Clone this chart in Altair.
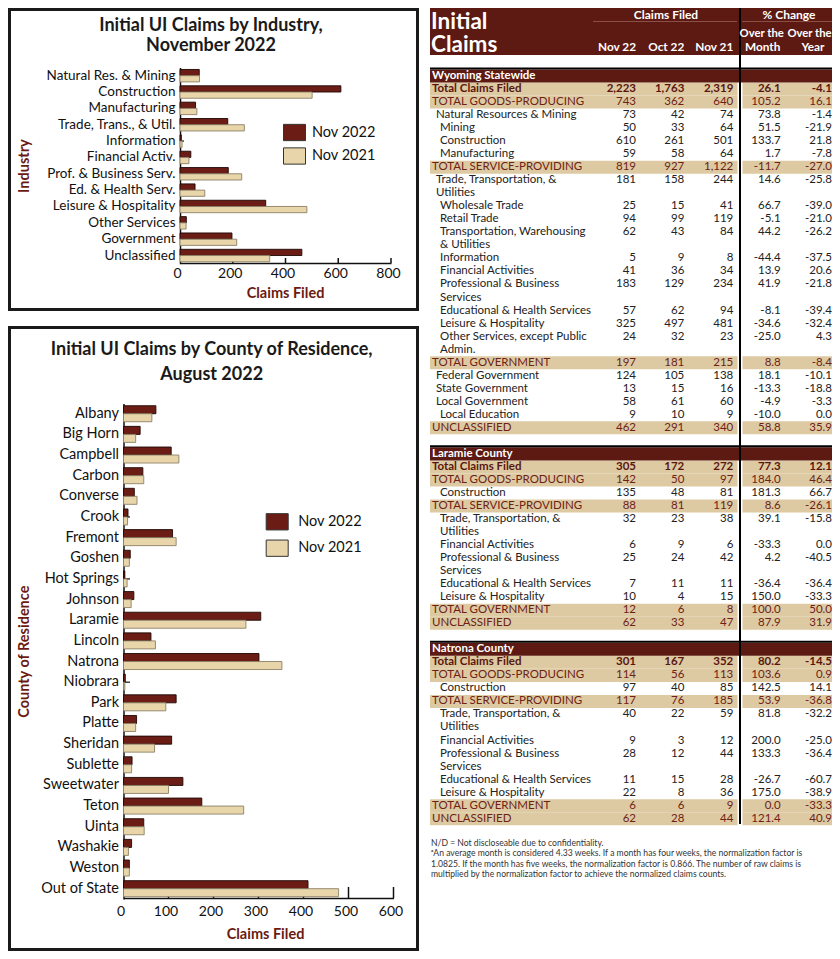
import altair as alt
import pandas as pd

F = "Lato"
HEAD = "#5c1a12"
BAR22 = "#6b1d15"
BAR21 = "#e8d6aa"
BEIGE = "#ddcaa2"
RED_TXT = "#6e2216"
RED_BOLD = "#5a160e"
TXT = "#222222"
TITLE_RED = "#6b1a12"
W, H = 824, 943

# ---------------- Chart 1 data: industry ----------------
industries = ["Natural Res. & Mining", "Construction", "Manufacturing", "Trade, Trans., & Util.",
              "Information", "Financial Activ.", "Prof. & Business Serv.", "Ed. & Health Serv.",
              "Leisure & Hospitality", "Other Services", "Government", "Unclassified"]
ind_nov2022 = [73, 610, 59, 181, 5, 41, 183, 57, 325, 24, 197, 462]
ind_nov2021 = [74, 501, 64, 244, 8, 34, 234, 94, 481, 23, 215, 340]
ind_ticks = [0, 200, 400, 600, 800]

# ---------------- Chart 2 data: county ----------------
counties = ["Albany", "Big Horn", "Campbell", "Carbon", "Converse", "Crook", "Fremont", "Goshen",
            "Hot Springs", "Johnson", "Laramie", "Lincoln", "Natrona", "Niobrara", "Park", "Platte",
            "Sheridan", "Sublette", "Sweetwater", "Teton", "Uinta", "Washakie", "Weston", "Out of State"]
cty_nov2022 = [72, 37, 106, 43, 24, 10, 109, 15, 3, 23, 305, 61, 301, 4, 117, 29, 107, 19, 132, 174, 45, 18, 13, 410]
cty_nov2021 = [63, 27, 123, 45, 30, 9, 117, 13, 8, 17, 272, 71, 352, 3, 94, 27, 69, 18, 100, 267, 46, 11, 13, 478]
cty_ticks = [0, 100, 200, 300, 400, 500, 600]

series = ["Nov 2022", "Nov 2021"]

# ---------------- Table data ----------------
tbl_labels = [
    "Wyoming Statewide", "Total Claims Filed", "TOTAL GOODS-PRODUCING", "Natural Resources & Mining",
    "Mining", "Construction", "Manufacturing", "TOTAL SERVICE-PROVIDING", "Trade, Transportation, &",
    "Utilities", "Wholesale Trade", "Retail Trade", "Transportation, Warehousing", "& Utilities",
    "Information", "Financial Activities", "Professional & Business", "Services",
    "Educational & Health Services", "Leisure & Hospitality", "Other Services, except Public", "Admin.",
    "TOTAL GOVERNMENT", "Federal Government", "State Government", "Local Government", "Local Education",
    "UNCLASSIFIED", "",
    "Laramie County", "Total Claims Filed", "TOTAL GOODS-PRODUCING", "Construction", "TOTAL SERVICE-PROVIDING",
    "Trade, Transportation, &", "Utilities", "Financial Activities", "Professional & Business", "Services",
    "Educational & Health Services", "Leisure & Hospitality", "TOTAL GOVERNMENT", "UNCLASSIFIED", "",
    "Natrona County", "Total Claims Filed", "TOTAL GOODS-PRODUCING", "Construction", "TOTAL SERVICE-PROVIDING",
    "Trade, Transportation, &", "Utilities", "Financial Activities", "Professional & Business", "Services",
    "Educational & Health Services", "Leisure & Hospitality", "TOTAL GOVERNMENT", "UNCLASSIFIED"]
tbl_kind = (["section", "total", "group", "item", "item", "item", "item", "group"] + ["item"] * 14 +
            ["group", "item", "item", "item", "item", "group", "blank"] +
            ["section", "total", "group", "item", "group"] + ["item"] * 7 + ["group", "group", "blank"] +
            ["section", "total", "group", "item", "group"] + ["item"] * 7 + ["group", "group"])
tbl_indent = ([0, 0, 0, 1, 2, 2, 2, 0, 1, 1] + [2] * 12 + [0, 1, 1, 1, 2, 0, 0] +
              [0, 0, 0, 2, 0] + [2] * 7 + [0, 0, 0] +
              [0, 0, 0, 2, 0] + [2] * 7 + [0, 0])
tbl_nov22 = ["", "2,223", "743", "73", "50", "610", "59", "819", "181", "", "25", "94", "62", "", "5", "41",
             "183", "", "57", "325", "24", "", "197", "124", "13", "58", "9", "462", "",
             "", "305", "142", "135", "88", "32", "", "6", "25", "", "7", "10", "12", "62", "",
             "", "301", "114", "97", "117", "40", "", "9", "28", "", "11", "22", "6", "62"]
tbl_oct22 = ["", "1,763", "362", "42", "33", "261", "58", "927", "158", "", "15", "99", "43", "", "9", "36",
             "129", "", "62", "497", "32", "", "181", "105", "15", "61", "10", "291", "",
             "", "172", "50", "48", "81", "23", "", "9", "24", "", "11", "4", "6", "33", "",
             "", "167", "56", "40", "76", "22", "", "3", "12", "", "15", "8", "6", "28"]
tbl_nov21 = ["", "2,319", "640", "74", "64", "501", "64", "1,122", "244", "", "41", "119", "84", "", "8", "34",
             "234", "", "94", "481", "23", "", "215", "138", "16", "60", "9", "340", "",
             "", "272", "97", "81", "119", "38", "", "6", "42", "", "11", "15", "8", "47", "",
             "", "352", "113", "85", "185", "59", "", "12", "44", "", "28", "36", "9", "44"]
tbl_mom = ["", "26.1", "105.2", "73.8", "51.5", "133.7", "1.7", "-11.7", "14.6", "", "66.7", "-5.1", "44.2", "",
           "-44.4", "13.9", "41.9", "", "-8.1", "-34.6", "-25.0", "", "8.8", "18.1", "-13.3", "-4.9", "-10.0",
           "58.8", "",
           "", "77.3", "184.0", "181.3", "8.6", "39.1", "", "-33.3", "4.2", "", "-36.4", "150.0", "100.0", "87.9", "",
           "", "80.2", "103.6", "142.5", "53.9", "81.8", "", "200.0", "133.3", "", "-26.7", "175.0", "0.0", "121.4"]
tbl_yoy = ["", "-4.1", "16.1", "-1.4", "-21.9", "21.8", "-7.8", "-27.0", "-25.8", "", "-39.0", "-21.0", "-26.2", "",
           "-37.5", "20.6", "-21.8", "", "-39.4", "-32.4", "4.3", "", "-8.4", "-10.1", "-18.8", "-3.3", "0.0",
           "35.9", "",
           "", "12.1", "46.4", "66.7", "-26.1", "-15.8", "", "0.0", "-40.5", "", "-36.4", "-33.3", "50.0", "31.9", "",
           "", "-14.5", "0.9", "14.1", "-36.8", "-32.2", "", "-25.0", "-36.4", "", "-60.7", "-38.9", "-33.3", "40.9"]

footnotes = [
    "N/D = Not discloseable due to confidentiality.",
    "\u1d43An average month is considered 4.33 weeks. If a month has four weeks, the normalization factor is",
    "1.0825. If the month has five weeks, the normalization factor is 0.866. The number of raw claims is",
    "multiplied by the normalization factor to achieve the normalized claims counts.",
]

# ---------------- frames ----------------
df1 = pd.DataFrame({"category": industries * 2,
                    "series": [series[0]] * len(industries) + [series[1]] * len(industries),
                    "value": ind_nov2022 + ind_nov2021})
df2 = pd.DataFrame({"category": counties * 2,
                    "series": [series[0]] * len(counties) + [series[1]] * len(counties),
                    "value": cty_nov2022 + cty_nov2021})
tdf = pd.DataFrame({"row": list(range(len(tbl_labels))), "label": tbl_labels, "kind": tbl_kind,
                    "indent": tbl_indent, "nov22": tbl_nov22, "oct22": tbl_oct22, "nov21": tbl_nov21,
                    "mom": tbl_mom, "yoy": tbl_yoy})
ONE = pd.DataFrame({"k": [0]})

SWATCH = "M-1,-0.74L1,-0.74L1,0.74L-1,0.74Z"


def txt(s, x, y, size, weight="normal", color="#111", align="left", baseline="middle"):
    return alt.Chart(ONE).mark_text(text=s, font=F, fontSize=size, fontWeight=weight, color=color,
                                    align=align, baseline=baseline).encode(x=alt.value(x), y=alt.value(y))


def rect(x, x2, y, y2, **kw):
    return alt.Chart(ONE).mark_rect(**kw).encode(x=alt.value(x), x2=alt.value(x2), y=alt.value(y), y2=alt.value(y2))


def hrule(x, x2, y, **kw):
    return alt.Chart(ONE).mark_rule(**kw).encode(x=alt.value(x), x2=alt.value(x2), y=alt.value(y))


def vrule(x, y, y2, **kw):
    return alt.Chart(ONE).mark_rule(**kw).encode(x=alt.value(x), y=alt.value(y), y2=alt.value(y2))


def bar_chart(df, cats, ticks, xdom, xr, yr, pin, axis_y, axis_x, title_x, title_y_pos, ytitle,
              lab_size, xlab_pad, leg_x, leg_y, leg_pad, leg_off, ytick_len, xtick_len):
    xs = alt.Scale(domain=xdom, range=xr, nice=False)
    ys = alt.Scale(domain=cats, range=yr, paddingInner=pin, paddingOuter=pin / 2)
    ax_x = alt.Axis(orient="bottom", offset=axis_x - H, values=ticks, ticks=False, grid=False,
                    domainColor="#111", domainWidth=1.5, labelFont=F, labelFontSize=14, labelColor="#111",
                    labelPadding=xlab_pad, labelOffset=-3, labelFlush=False, format="d",
                    title="Claims Filed", titleFont=F, titleFontSize=14.5, titleFontWeight="bold",
                    titleColor=TITLE_RED, titleX=title_x, titleY=title_y_pos, titleBaseline="middle",
                    titleAlign="center")
    ax_y = alt.Axis(orient="left", offset=-axis_y, ticks=False, grid=False, domainColor="#111",
                    domainWidth=1.5, labelFont=F, labelFontSize=lab_size, labelColor="#111",
                    labelPadding=5, labelLimit=300, title=ytitle, titleFont=F, titleFontSize=14.5,
                    titleFontWeight="bold", titleColor=TITLE_RED, titleAngle=270,
                    titleX=16 - axis_y, titleY=(yr[0] + yr[1]) / 2, titleBaseline="middle",
                    titleAlign="center")
    tick_df = pd.DataFrame({"value": ticks[1:]})
    xticks = alt.Chart(tick_df).mark_rule(color="#111", strokeWidth=1.5).encode(
        x=alt.X("value:Q", scale=xs, axis=ax_x),
        y=alt.value(axis_x - xtick_len), y2=alt.value(axis_x))
    yticks = alt.Chart(pd.DataFrame({"category": cats})).mark_rule(color="#111", strokeWidth=1.2).encode(
        y=alt.Y("category:N", scale=ys, sort=cats, axis=ax_y),
        x=alt.value(axis_y), x2=alt.value(axis_y + ytick_len))
    bars = alt.Chart(df).mark_bar(strokeWidth=0.9).encode(
        y=alt.Y("category:N", scale=ys, sort=cats, axis=ax_y),
        yOffset=alt.YOffset("series:N", sort=series, scale=alt.Scale(domain=series, paddingInner=0, paddingOuter=0)),
        x=alt.X("value:Q", scale=xs, axis=ax_x),
        color=alt.Color("series:N", sort=series, scale=alt.Scale(domain=series, range=[BAR22, BAR21]),
                        legend=alt.Legend(orient="none", legendX=leg_x, legendY=leg_y, title=None,
                                          symbolType=SWATCH, symbolSize=484, symbolStrokeColor="#333",
                                          symbolStrokeWidth=1, labelFont=F, labelFontSize=14.5,
                                          labelColor="#111", labelOffset=leg_off, rowPadding=leg_pad,
                                          padding=0)),
        stroke=alt.condition("datum.series == 'Nov 2022'", alt.value("#1e0806"), alt.value("#8c8068")),
    )
    return alt.layer(xticks, yticks, bars)


chart1 = bar_chart(df1, industries, ind_ticks, [0, 800], [172, 383], [59.5, 255.7], 0.24,
                   axis_y=172, axis_x=255, title_x=277, title_y_pos=30, ytitle="Industry",
                   lab_size=13.5, xlab_pad=3, leg_x=275, leg_y=113, leg_pad=1.5, leg_off=6,
                   ytick_len=4, xtick_len=5)
chart2 = bar_chart(df2, counties, cty_ticks, [0, 600], [115.5, 385.5], [395.4, 891], 0.225,
                   axis_y=115.5, axis_x=890, title_x=257, title_y_pos=36, ytitle="County of Residence",
                   lab_size=14.5, xlab_pad=6, leg_x=257.7, leg_y=502.3, leg_pad=4.4,
                   leg_off=9.5, ytick_len=6.5, xtick_len=11)

# ---------------- decorations (boxes, titles) ----------------
decor = [
    rect(1.5, 409.5, 1.5, 301.5, fillOpacity=0, stroke="#1a1a1a", strokeWidth=3),
    rect(1.5, 409.5, 319.5, 941.5, fillOpacity=0, stroke="#1a1a1a", strokeWidth=3),
    txt("Initial UI Claims by Industry,", 203, 17.5, 18, "bold", "#1a1a1a", "center"),
    txt("November 2022", 203, 37.5, 18, "bold", "#1a1a1a", "center"),
    txt("Initial UI Claims by County of Residence,", 203.7, 342.2, 18, "bold", "#1a1a1a", "center"),
    txt("August 2022", 203.7, 366.5, 18, "bold", "#1a1a1a", "center"),
]

# ---------------- table ----------------
ROW = alt.Scale(domain=[0, len(tbl_labels) - 1], range=[68, 810.7])
IND = alt.Scale(domain=[0, 2], range=[424, 432])
tb = alt.Chart(tdf)
bands = tb.transform_calculate(r0="datum.row - 0.5", r1="datum.row + 0.5")
tlayers = [
    rect(422, W, 0, 47, color=HEAD),
    bands.transform_filter("datum.kind == 'total' || datum.kind == 'group'").mark_rect(color=BEIGE).encode(
        y=alt.Y("r0:Q", scale=ROW, axis=None), y2="r1:Q", x=alt.value(422), x2=alt.value(729.5)),
    bands.transform_filter("datum.kind == 'total' || datum.kind == 'group'").mark_rect(color=BEIGE).encode(
        y=alt.Y("r0:Q", scale=ROW, axis=None), y2="r1:Q", x=alt.value(734.5), x2=alt.value(W)),
    bands.transform_filter("datum.kind == 'section'").mark_rect(color=HEAD).encode(
        y=alt.Y("r0:Q", scale=ROW, axis=None), y2="r1:Q", x=alt.value(422), x2=alt.value(W)),
    bands.transform_filter("datum.kind == 'section'").mark_rule(color="#000", strokeWidth=2, yOffset=-1).encode(
        y=alt.Y("r0:Q", scale=ROW, axis=None), x=alt.value(422), x2=alt.value(W)),
    vrule(732, 0, 816, color="#000", strokeWidth=2),
    hrule(585, 729, 13.5, color="#8a5048", strokeWidth=1),
    hrule(734, W, 13.5, color="#8a5048", strokeWidth=1),
    txt("Initial", 423, 20.5, 22.5, "bold", "white", "left", "alphabetic"),
    txt("Claims", 423, 44.3, 22.5, "bold", "white", "left", "alphabetic"),
    txt("Claims Filed", 658, 7, 12, "bold", "white", "center"),
    txt("% Change", 781, 7, 12, "bold", "white", "center"),
    txt("Over the", 753.7, 26, 11.3, "bold", "white", "center"),
    txt("Over the", 801.5, 26, 11.3, "bold", "white", "center"),
    txt("Month", 754.7, 38.7, 11.8, "bold", "white", "center"),
    txt("Year", 805, 38.7, 11.8, "bold", "white", "center"),
    txt("Nov 22", 628, 38.7, 11.8, "bold", "white", "right"),
    txt("Oct 22", 676.3, 38.7, 11.8, "bold", "white", "right"),
    txt("Nov 21", 725.3, 38.7, 11.8, "bold", "white", "right"),
]

label_styles = [("section", "bold", "white"), ("total", "bold", RED_BOLD),
                ("group", "normal", RED_TXT), ("item", "normal", TXT)]
for kind, weight, color in label_styles:
    tlayers.append(tb.transform_filter(f"datum.kind == '{kind}'").mark_text(
        font=F, fontSize=11.5, fontWeight=weight, color=color, align="left", baseline="middle").encode(
        x=alt.X("indent:Q", scale=IND, axis=None), y=alt.Y("row:Q", scale=ROW, axis=None), text="label:N"))

num_cols = [("nov22", 628), ("oct22", 676.3), ("nov21", 725.3), ("mom", 772.7), ("yoy", 824)]
for col, xr in num_cols:
    tlayers.append(tb.transform_filter("datum.kind == 'total'").mark_text(
        font=F, fontSize=11.5, fontWeight="bold", color=RED_BOLD, align="right", baseline="middle").encode(
        x=alt.value(xr), y=alt.Y("row:Q", scale=ROW, axis=None), text=f"{col}:N"))
    tlayers.append(tb.transform_filter("datum.kind == 'group' || datum.kind == 'item'").mark_text(
        font=F, fontSize=11.5, align="right", baseline="middle").encode(
        x=alt.value(xr), y=alt.Y("row:Q", scale=ROW, axis=None), text=f"{col}:N",
        color=alt.condition("datum.kind == 'group'", alt.value(RED_TXT), alt.value(TXT))))

for i, line in enumerate(footnotes):
    tlayers.append(txt(line, 423, 835 + 10.3 * i, 8.6, "normal", "#333", "left"))

table = alt.layer(*tlayers)

chart = alt.layer(*decor, chart1, chart2, table).resolve_scale(
    x="independent", y="independent", color="independent", yOffset="independent"
).properties(
    width=W, height=H, padding=0, autosize=alt.AutoSizeParams(type="none")
).configure_view(stroke="transparent")

chart.save("out.html", embed_options={"renderer": "svg", "actions": False})
